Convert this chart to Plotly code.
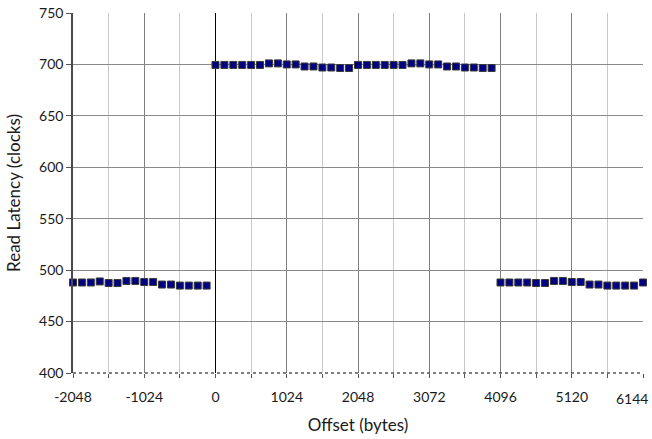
import plotly.graph_objects as go

step = 128
left_offsets = list(range(-2048, 0, step))
left_values = [488, 488, 488, 489, 487.5, 487.5, 489.5, 489.5, 488.5, 488.5, 486, 486, 485, 485, 485, 485]
mid_offsets = list(range(0, 4096, step))
mid_values = [699.5, 699.5, 699.5, 699.5, 699.5, 699.5, 701, 701, 700, 700, 698, 698, 697, 697, 696.5, 696.5,
              699.5, 699.5, 699.5, 699.5, 699.5, 699.5, 701, 701, 700, 700, 698, 698, 697, 697, 696.5, 696.5]
right_offsets = list(range(4096, 6144 + step, step))
right_values = [488, 488, 488, 488, 487.5, 487.5, 489.5, 489.5, 488.5, 488.5, 486, 486, 485, 485, 485, 485, 488]

x_ticks = [-2048, -1024, 0, 1024, 2048, 3072, 4096, 5120, 6144]
y_ticks = [400, 450, 500, 550, 600, 650, 700, 750]

# last label is drawn as a right-anchored annotation so it stays inside the window
x_ticktext = [str(v) for v in x_ticks[:-1]] + [""]

marker = dict(symbol="square", size=7, color="#000080", line=dict(color="#3a3a3a", width=1))
fig = go.Figure()
for xs, ys in [(left_offsets, left_values), (mid_offsets, mid_values), (right_offsets, right_values)]:
    fig.add_trace(go.Scatter(x=xs, y=ys, mode="markers", marker=marker, showlegend=False, cliponaxis=False))

font = dict(family="Lato, 'Open Sans', sans-serif", size=14, color="#1a1a1a")
fig.update_layout(
    width=652, height=439,
    margin=dict(l=73, r=9, t=13, b=66),
    paper_bgcolor="white", plot_bgcolor="white",
    font=font,
    xaxis=dict(
        range=[-2048, 6144], tickvals=x_ticks, ticktext=x_ticktext,
        automargin=False, ticklabeloverflow="allow", ticklabelstandoff=7,
        showgrid=True, gridcolor="#7f7f7f", gridwidth=1,
        minor=dict(dtick=512, tick0=0, showgrid=True, gridcolor="#c8c8c8", ticks="outside", ticklen=4, tickcolor="#555"),
        ticks="outside", ticklen=4, tickcolor="#555",
        zeroline=True, zerolinecolor="#000000", zerolinewidth=1,
        showline=False,
        title=dict(text="Offset (bytes)", standoff=15),
        tickfont=font,
    ),
    yaxis=dict(
        range=[400, 750], tickvals=y_ticks,
        automargin=False, ticklabeloverflow="allow",
        showgrid=True, gridcolor="#8a8a8a", gridwidth=1,
        ticks="outside", ticklen=5, tickcolor="#555",
        showline=True, linecolor="#4a4a4a", linewidth=1.5,
        zeroline=False,
        title=dict(text="Read Latency (clocks)", standoff=14),
        tickfont=font,
    ),
    shapes=[dict(type="line", xref="x domain", yref="y domain", x0=0, x1=1, y0=0, y1=0,
                 line=dict(color="#000000", width=1, dash="dot"))],
    annotations=[dict(text=str(x_ticks[-1]), xref="x", x=x_ticks[-1], yref="paper", y=0,
                      xanchor="right", yanchor="top", xshift=7, yshift=-15,
                      showarrow=False, font=font)],
)
fig.write_html("out.html", config={"displayModeBar": False},
               post_script="document.body.style.margin='0';")
